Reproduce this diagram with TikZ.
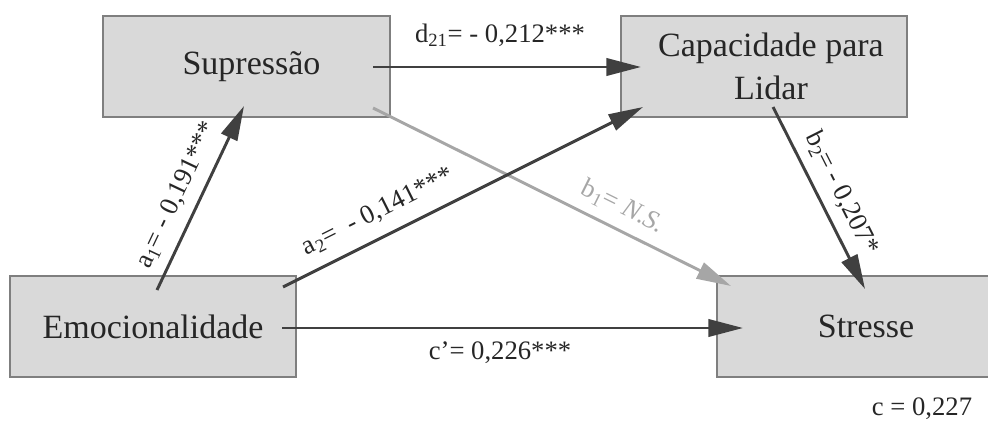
\documentclass[tikz,border=0pt]{standalone}
\usepackage{fontspec}
\setmainfont{Liberation Serif}
\usetikzlibrary{arrows.meta}
\definecolor{boxfill}{HTML}{D9D9D9}
\definecolor{boxline}{HTML}{7F7F7F}
\definecolor{arrowdark}{HTML}{404040}
\definecolor{arrowlight}{HTML}{A6A6A6}
\definecolor{textdark}{HTML}{262626}
\begin{document}
\begin{tikzpicture}[x=0.75pt,y=-0.75pt,
  var/.style={draw=boxline, line width=0.9pt, fill=boxfill, inner sep=0pt,
    minimum width=214.5pt, minimum height=75.75pt, align=center, text=textdark,
    font=\fontsize{25.5}{32}\selectfont},
  conn/.style={draw=arrowdark, line width=2.2pt,
    -{Triangle[length=26pt,width=13pt]}},
  nsconn/.style={conn, draw=arrowlight},
  coef/.style={font=\fontsize{20}{24}\selectfont, text=textdark, inner sep=0pt}
]
\useasboundingbox (0,0) rectangle (988,428);
\clip (0,0) rectangle (988,428);

% variables
\node[var, minimum width=215.25pt] (sup) at (246.5,66.5) {\hspace*{7.5pt}Supressão};
\node[var] (cap) at (764,66.5) {\hspace*{10.5pt}Capacidade para\\\hspace*{10.5pt}Lidar};
\node[var] (emo) at (153,326.5) {Emocionalidade};
\node[var, minimum width=223.5pt] (str) at (866,326.5) {Stresse};

% path end points inside the boxes
\coordinate (a1s) at (157,290);
\coordinate (a1e) at (244,106);
\coordinate (a2s) at (283,287);
\coordinate (a2e) at (643,107);
\coordinate (d21s) at (373,67);
\coordinate (d21e) at (641,67);
\coordinate (b1s) at (373,108);
\coordinate (b1e) at (731,286);
\coordinate (b2s) at (773,107);
\coordinate (b2e) at (865,289);
\coordinate (cs) at (282,328);
\coordinate (ce) at (743,328);

% paths
\draw[nsconn] (b1s) -- (b1e);
\draw[conn] (a1s) -- (a1e);
\draw[conn] (a2s) -- (a2e);
\draw[conn] (d21s) -- (d21e);
\draw[conn] (b2s) -- (b2e);
\draw[conn] (cs) -- (ce);

% coefficients
\node[coef] (ld21) at (500,35) {d\textsubscript{21}= - 0,212***};
\node[coef, rotate=64.7] (la1) at (177,195) {a\textsubscript{1}= - 0,191***};
\node[coef, rotate=26.6] (la2) at (378,212) {a\textsubscript{2}= \ - 0,141***};
\node[coef, rotate=-26.4, text=arrowlight] (lb1) at (623,207) {b\textsubscript{1}= \textit{N.S.}};
\node[coef, rotate=-63.2] (lb2) at (842,193) {b\textsubscript{2}= - 0,207*};
\node[coef] (lc1) at (500,353) {c’= 0,226***};
\node[coef] (lc) at (922,409) {c = 0,227};
\end{tikzpicture}
\end{document}
